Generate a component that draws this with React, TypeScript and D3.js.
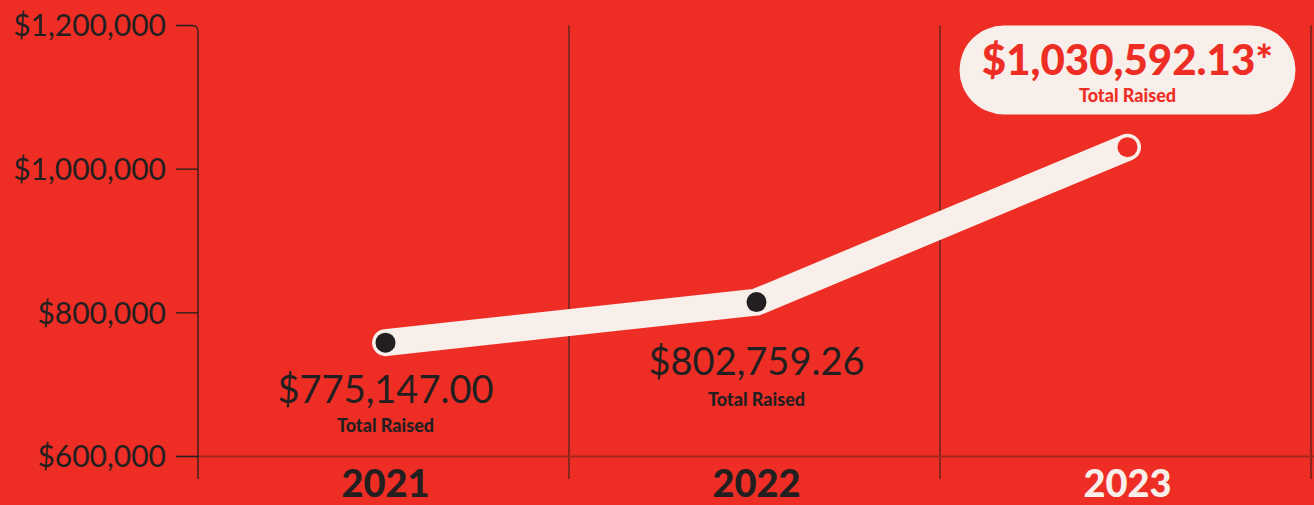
import React from "react";
import * as d3 from "d3";

// chart data
const years = ["2021", "2022", "2023"];
// plotted positions
const plotted = [758500, 815000, 1030600];
const valueLabels = ["$775,147.00", "$802,759.26", "$1,030,592.13*"];
const subLabel = "Total Raised";
const yTicks = [600000, 800000, 1000000, 1200000];

const RED = "#EE2E24";
const CREAM = "#F8EFEB";
const DARK = "#231F20";
const FONT = "Lato, 'Noto Sans', sans-serif";

const App = () => {
  const width = 1314;
  const height = 505;

  const x = d3.scaleBand().domain(years).range([198, 1311]).padding(0);
  const y = d3.scaleLinear().domain([600000, 1200000]).range([456.5, 25.5]);

  const axisX = x.range()[0];
  const tickLeft = axisX - 22;
  const bottomY = 479;
  const cx = (d) => x(d) + x.bandwidth() / 2 + 2;

  const pts = years.map((d, i) => [cx(d), y(plotted[i])]);
  const line = d3.line()(pts);

  const topY = y(1200000);
  const r = 6;
  const axisPath = `M${tickLeft},${topY}H${axisX - r}Q${axisX},${topY} ${axisX},${topY + r}V${bottomY}`;

  // label offsets under the points (first two years)
  const labelDy = [60, 73];
  const subDy = [89, 104];

  const last = years.length - 1;
  const pillCx = cx(years[last]);

  return (
    <div style={{ position: "fixed", left: 0, top: 0 }}>
      <svg width={width} height={height} viewBox={`0 0 ${width} ${height}`} style={{ display: "block" }}>
        <rect width={width} height={height} fill={RED} />

        {/* vertical dividers */}
        {years.slice(1).map((d) => (
          <line key={d} x1={x(d)} x2={x(d)} y1={topY} y2={bottomY} stroke={DARK} strokeWidth={1} />
        ))}
        <line x1={x.range()[1]} x2={x.range()[1]} y1={topY} y2={bottomY} stroke={DARK} strokeWidth={1} />

        {/* baseline */}
        <line x1={tickLeft} x2={width} y1={y(600000)} y2={y(600000)} stroke="#A5261E" strokeWidth={2} />

        {/* y axis */}
        <path d={axisPath} fill="none" stroke={DARK} strokeWidth={1.3} />
        {yTicks.slice(0, -1).map((t) => (
          <line key={t} x1={tickLeft} x2={axisX} y1={y(t)} y2={y(t)} stroke={DARK} strokeWidth={1.3} />
        ))}
        {yTicks.map((t) => (
          <text
            key={"l" + t}
            x={166}
            y={y(t)}
            dy="0.36em"
            textAnchor="end"
            fontFamily={FONT}
            fontSize={30}
            fill={DARK}
          >
            {"$" + d3.format(",")(t)}
          </text>
        ))}

        {/* line */}
        <path d={line} fill="none" stroke={CREAM} strokeWidth={27} strokeLinecap="round" strokeLinejoin="miter" />
        {pts.map((p, i) =>
          i === last ? (
            <circle key={i} cx={p[0]} cy={p[1]} r={10} fill={RED} />
          ) : (
            <circle key={i} cx={p[0]} cy={p[1]} r={10} fill={DARK} />
          )
        )}

        {/* value labels */}
        {years.slice(0, last).map((d, i) => (
          <g key={"v" + d}>
            <text
              x={pts[i][0]}
              y={pts[i][1] + labelDy[i]}
              textAnchor="middle"
              fontFamily={FONT}
              fontSize={38}
              fill={DARK}
            >
              {valueLabels[i]}
            </text>
            <text
              x={pts[i][0]}
              y={pts[i][1] + subDy[i]}
              textAnchor="middle"
              fontFamily={FONT}
              fontWeight={900}
              fontSize={18}
              fill={DARK}
            >
              {subLabel}
            </text>
          </g>
        ))}

        {/* highlighted total */}
        <rect x={pillCx - 168} y={topY} width={336} height={89} rx={44.5} fill={CREAM} />
        <text
          x={pillCx}
          y={topY + 49}
          textAnchor="middle"
          fontFamily={FONT}
          fontWeight={900}
          fontSize={42}
          fill={RED}
        >
          {valueLabels[last]}
        </text>
        <text
          x={pillCx}
          y={topY + 76}
          textAnchor="middle"
          fontFamily={FONT}
          fontWeight={900}
          fontSize={18}
          fill={RED}
        >
          {subLabel}
        </text>

        {/* year labels */}
        {years.map((d, i) => (
          <text
            key={"y" + d}
            x={cx(d)}
            y={497}
            textAnchor="middle"
            fontFamily={FONT}
            fontWeight={900}
            fontSize={38}
            fill={i === last ? CREAM : DARK}
          >
            {d}
          </text>
        ))}
      </svg>
    </div>
  );
};

export default App;
